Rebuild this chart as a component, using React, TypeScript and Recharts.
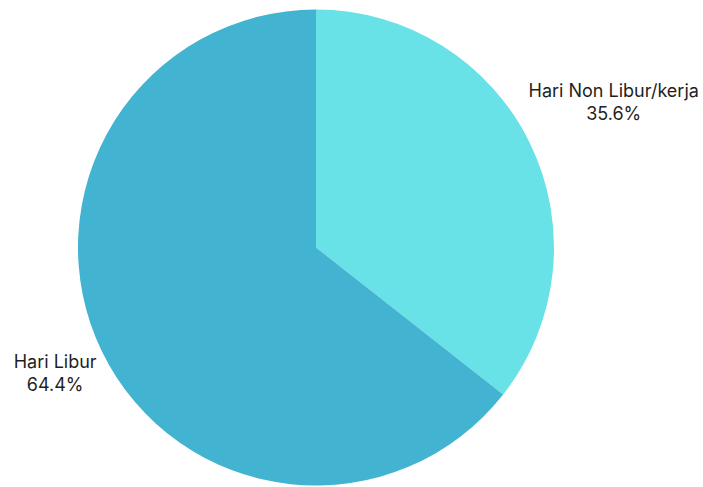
import { PieChart, Pie, Cell } from "recharts";

const categories = ["Hari Non Libur/kerja", "Hari Libur"];
const shares = [35.6, 64.4];
const COLORS = ["#68e1e7", "#42b3d1"];
// extra radial distance for each label, beyond the pie edge
const LABEL_GAP = [93, 52];

const data = categories.map((name, i) => ({ name, value: shares[i] }));

const RADIAN = Math.PI / 180;

const renderLabel = ({ cx, cy, midAngle, outerRadius, index, name, value }: any) => {
  const r = outerRadius + LABEL_GAP[index];
  const x = cx + r * Math.cos(-midAngle * RADIAN);
  const y = cy + r * Math.sin(-midAngle * RADIAN);
  return (
    <text x={x} y={y} textAnchor="middle" fill="#1f1f1f" fontSize={18} fontFamily="Inter, sans-serif">
      <tspan x={x} dy={-6}>{name}</tspan>
      <tspan x={x} dy={23}>{value.toFixed(1)}%</tspan>
    </text>
  );
};

export default function App() {
  return (
    <div style={{ position: "absolute", left: 0, top: 0, width: 703, height: 487, background: "#fff" }}>
      <PieChart width={703} height={487} margin={{ top: 0, right: 0, bottom: 0, left: 0 }}>
        <Pie
          data={data}
          dataKey="value"
          nameKey="name"
          cx={316}
          cy={247.5}
          outerRadius={238}
          startAngle={90}
          endAngle={-270}
          stroke="none"
          label={renderLabel}
          labelLine={false}
          isAnimationActive={false}
        >
          {data.map((d, i) => (
            <Cell key={d.name} fill={COLORS[i]} />
          ))}
        </Pie>
      </PieChart>
    </div>
  );
}
